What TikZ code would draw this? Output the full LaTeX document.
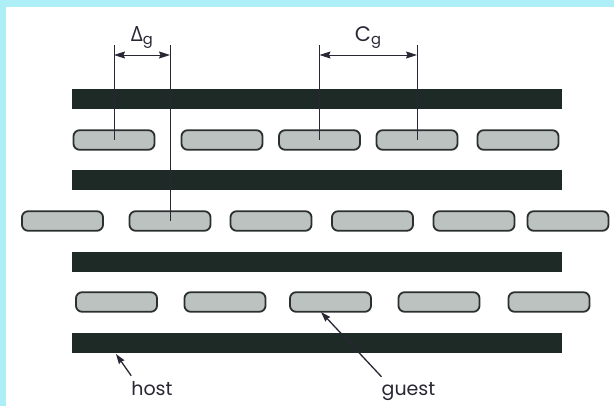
\documentclass[tikz,border=0pt]{standalone}
\usepackage{fontspec}
\setmainfont{Poppins}
\newfontfamily\greekfont{Open Sans}
\usepackage{xcolor}
\usetikzlibrary{arrows.meta, positioning}

\definecolor{hostcol}{HTML}{1E2A26}
\definecolor{guestfill}{HTML}{BCC2BF}
\definecolor{guestline}{HTML}{2B302F}
\definecolor{inkcol}{HTML}{2A2633}
\definecolor{framecol}{HTML}{AEEEF6}

\begin{document}
\begin{tikzpicture}[
    x=1pt, y=-1pt,
    hostbar/.style={rectangle, fill=hostcol, draw=none, inner sep=0pt,
                    minimum width=490pt, minimum height=20pt},
    guest/.style={rectangle, rounded corners=6pt, draw=guestline, line width=1.8pt,
                  fill=guestfill, inner sep=0pt, minimum width=81pt, minimum height=19.5pt},
    dimline/.style={line width=0.9pt, draw=inkcol},
    dimarrow/.style={{Stealth[length=11pt, width=7pt, inset=1.5pt]}-{Stealth[length=11pt, width=7pt, inset=1.5pt]},
                     line width=0.9pt, draw=inkcol},
    pointer/.style={-{Stealth[length=10pt, width=6.5pt, inset=1pt]}, line width=1.3pt, draw=inkcol},
    lbl/.style={font=\fontsize{19}{22}\selectfont, text=inkcol, inner xsep=0pt, inner ysep=1pt},
    dimlbl/.style={font=\fontsize{21}{24}\selectfont, text=inkcol, inner sep=0pt}
]
\useasboundingbox (0,0) rectangle (614,406);

% Page frame
\fill[framecol] (0,0) rectangle (614,406);
\fill[white] (6,7) rectangle (614,406);

% Host layers
\node[hostbar] (h1) at (317,99) {};
\node[hostbar] (h2) at (317,180.5) {};
\node[hostbar] (h3) at (317,262) {};
\node[hostbar] (h4) at (317,343.5) {};

% Guest row 1
\node[guest] (g11) at (114,140) {};
\node[guest] (g12) at (222,140) {};
\node[guest] (g13) at (319.5,140) {};
\node[guest] (g14) at (417,140) {};
\node[guest] (g15) at (518,140) {};

% Guest row 2
\node[guest] (g21) at (62.5,221) {};
\node[guest] (g22) at (170,221) {};
\node[guest] (g23) at (271,221) {};
\node[guest] (g24) at (372.5,221) {};
\node[guest] (g25) at (474,221) {};
\node[guest] (g26) at (568,221) {};

% Guest row 3
\node[guest] (g31) at (116.5,302) {};
\node[guest] (g32) at (225,302) {};
\node[guest] (g33) at (330.5,302) {};
\node[guest] (g34) at (439,302) {};
\node[guest] (g35) at (549,302) {};

% Dimension lines
\coordinate (dtop) at (0,45);
\coordinate (darr) at (0,55);
\draw[dimline] (g11.center) -- (g11.center |- dtop);
\draw[dimline] (g22.center) -- (g22.center |- dtop);
\draw[dimline] (g13.center) -- (g13.center |- dtop);
\draw[dimline] (g14.center) -- (g14.center |- dtop);

\draw[dimarrow] (g11 |- darr) -- node[dimlbl, above=6pt] {{\greekfont Δ}\textsubscript{g}} (g22 |- darr);
\draw[dimarrow] (g13 |- darr) -- node[dimlbl, above=6pt] {C\textsubscript{g}} (g14 |- darr);

% Labels
\node[lbl, anchor=base, inner ysep=6pt] (hostlbl) at (152,396) {host};
\node[lbl, anchor=base, inner ysep=6pt] (guestlbl) at (408.5,396) {guest};
\coordinate (hostpt) at (116,354);
\coordinate (guestpt) at (321,312);
\draw[pointer] (hostlbl.north west) -- (hostpt);
\draw[pointer] (guestlbl.north west) -- (guestpt);

\end{tikzpicture}
\end{document}
